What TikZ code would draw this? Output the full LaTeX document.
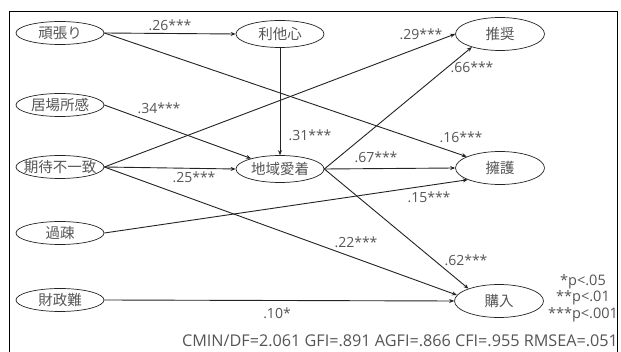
\documentclass[tikz,border=0pt]{standalone}
\usepackage{fontspec}
\setmainfont{Noto Sans CJK JP}
\newfontfamily\numfont{Open Sans}
\usepackage{tikz}
\usetikzlibrary{arrows.meta, shapes.geometric}
\definecolor{txtgray}{RGB}{85,85,85}
\definecolor{linegray}{RGB}{35,35,35}
% keep the ellipse at its set size whatever the text width
\newcommand{\vname}[1]{\makebox[0pt]{#1}}

\begin{document}
\begin{tikzpicture}[x=1pt, y=-1pt,
        var/.style={draw=linegray, line width=0.7pt, ellipse, inner sep=0pt,
            minimum width=88pt, minimum height=23pt,
            font=\fontsize{14.5}{15}\selectfont, text=txtgray},
        mid/.style={var, minimum height=27pt},
        outc/.style={var, minimum width=89pt, minimum height=33pt},
        path/.style={draw=linegray, line width=0.9pt, -{Stealth[length=5pt, width=4pt]}},
        coef/.style={font=\numfont\fontsize{14}{14}\selectfont, text=txtgray}]
            \useasboundingbox (0,0) rectangle (621,352);
            \fill[white] (0,0) rectangle (621,352);

            % Draw the frame (open at the bottom)
            \draw[line width=1pt] (9,352) -- (9,12) -- (617,12) -- (617,352);

            % Exogenous variables (left)
            \node[var] (ganbari) at (60,33) {\vname{頑張り}};
            \node[var] (ibasho) at (60,105) {\vname{居場所感}};
            \node[var] (kitai) at (60,167) {\vname{期待不一致}};
            \node[var] (kaso) at (60,233) {\vname{過疎}};
            \node[var] (zaisei) at (60,300) {\vname{財政難}};

            % Mediators (middle)
            \node[mid] (rita) at (280,34) {\vname{利他心}};
            \node[mid] (aichaku) at (280,169) {\vname{地域愛着}};

            % Outcomes (right)
            \node[outc] (suisho) at (500,34) {\vname{推奨}};
            \node[outc] (yogo) at (500,168) {\vname{擁護}};
            \node[outc] (konyu) at (499,301) {\vname{購入}};

            % Paths
            \draw[path] (ganbari.east) -- (rita.west);
            \draw[path] (ganbari.east) -- (yogo);
            \draw[path] (rita.south) -- (aichaku.north);
            \draw[path] (ibasho.east) -- (aichaku);
            \draw[path] (kitai.east) -- (suisho.west);
            \draw[path] (kitai.east) -- (aichaku.west);
            \draw[path] (kitai.east) -- (konyu.172);
            \draw[path] (aichaku.east) -- (suisho.205);
            \draw[path] (aichaku.east) -- (yogo.west);
            \draw[path] (aichaku.east) -- (konyu.158);
            \draw[path] (kaso.east) -- (yogo.200);
            \draw[path] (zaisei.east) -- (konyu.west);

            % Path coefficients
            \node[coef] (c26) at (170,25) {.26***};
            \node[coef] (c34) at (159,108) {.34***};
            \node[coef] (c31) at (310,135) {.31***};
            \node[coef] (c25) at (194,177) {.25***};
            \node[coef] (c29) at (421,34) {.29***};
            \node[coef] (c66) at (472,67) {.66***};
            \node[coef] (c16) at (461,137) {.16***};
            \node[coef] (c67) at (376,157) {.67***};
            \node[coef] (c15) at (429,197) {.15***};
            \node[coef] (c22) at (356,242) {.22***};
            \node[coef] (c62) at (466,260) {.62***};
            \node[coef] (c10) at (277,313) {.10*};

            % Significance levels and fit indices
            \node[coef, align=center, font=\numfont\fontsize{14.5}{16.5}\selectfont] (sig) at (583,298)
                {*p<.05\\**p<.01\\***p<.001};
            \node[coef, font=\numfont\fontsize{16.2}{17}\selectfont] (fit) at (400,341)
                {CMIN/DF=2.061 GFI=.891 AGFI=.866 CFI=.955 RMSEA=.051};
        \end{tikzpicture}
\end{document}
